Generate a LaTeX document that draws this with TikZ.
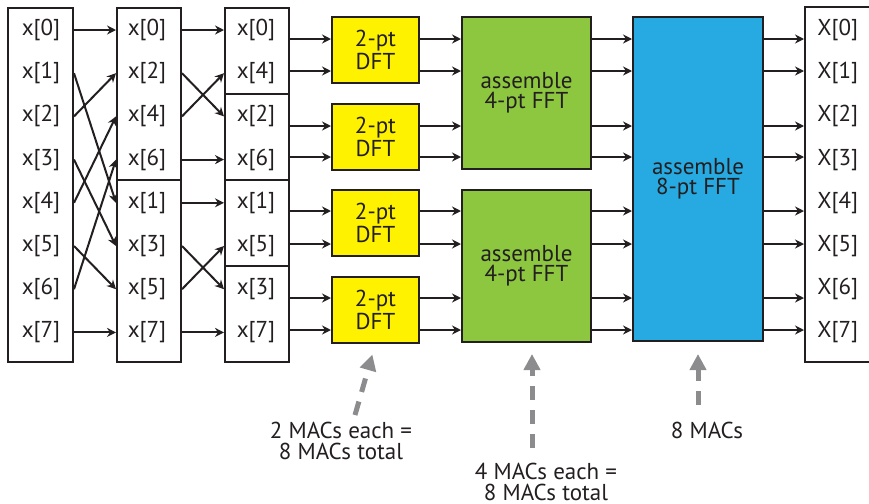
\documentclass[tikz,border=0pt]{standalone}
\usepackage{fontspec}
\setmainfont{PT Sans}
\usetikzlibrary{arrows.meta}
\definecolor{FInk}{HTML}{231F20}
\definecolor{FYellow}{HTML}{FFF200}
\definecolor{FGreen}{HTML}{8DC63F}
\definecolor{FBlue}{HTML}{27AAE1}
\definecolor{FGray}{HTML}{8C8C8F}

\begin{document}
\begin{tikzpicture}[
  x=0.5pt,y=-0.5pt,
  every node/.style={font=\fontsize{11.5}{10}\selectfont,text=FInk},
  col/.style={draw=FInk,line width=1pt,minimum width=32pt,inner sep=0pt},
  entry/.style={inner sep=0pt},
  dft/.style={draw=FInk,line width=1pt,fill=FYellow,minimum width=43.5pt,
    minimum height=33pt,align=center,inner sep=0pt},
  fft/.style={draw=FInk,line width=1pt,fill=FGreen,minimum width=64.5pt,
    minimum height=76pt,align=center,inner sep=0pt},
  fftall/.style={draw=FInk,line width=1pt,fill=FBlue,minimum width=65pt,
    minimum height=162pt,align=center,inner sep=0pt},
  arr/.style={-{Stealth[length=4.5pt,width=4.5pt]},line width=1pt,draw=FInk},
  macarr/.style={-{Triangle[length=8pt,width=8pt]},line width=2.5pt,draw=FGray,
    dash pattern=on 7pt off 5pt},
  note/.style={align=center,font=\fontsize{11.5}{10.5}\selectfont}
]
  \useasboundingbox (0,0) rectangle (869,504);
  \clip (0,0) rectangle (869,504);

  % input columns
  \node[col,minimum width=32.5pt,minimum height=177pt] (c1) at (40.5,185) {};
  \node[col,minimum height=86pt] (c2a) at (149,94) {};
  \node[col,minimum height=91pt] (c2b) at (149,271) {};
  \node[col,minimum height=43pt] (c3a) at (257,51) {};
  \node[col,minimum height=43pt] (c3b) at (257,137) {};
  \node[col,minimum height=43pt] (c3c) at (257,223) {};
  \node[col,minimum height=48pt] (c3d) at (257,314) {};
  \node[col,minimum width=40pt,minimum height=177.5pt] (out) at (845,184.5) {};

  \foreach \i in {0,...,7}
    \node[entry] (a\i) at (41,{30+43.2*\i}) {x[\i]};
  \foreach \n/\i in {0/0,1/2,2/4,3/6,4/1,5/3,6/5,7/7}
    \node[entry] (b\n) at (147,{30+43.2*\n}) {x[\i]};
  \foreach \n/\i in {0/0,1/4,2/2,3/6,4/1,5/5,6/3,7/7}
    \node[entry] (d\n) at (256,{30+43.2*\n}) {x[\i]};
  \foreach \i in {0,...,7}
    \node[entry,anchor=west] (X\i) at (817,{30+43.2*\i}) {X[\i]};

  % butterfly stages
  \node[dft] (y1) at (375.5,50) {2-pt\\DFT};
  \node[dft] (y2) at (375.5,136.5) {2-pt\\DFT};
  \node[dft] (y3) at (375.5,223) {2-pt\\DFT};
  \node[dft] (y4) at (375.5,309.5) {2-pt\\DFT};
  \node[fft] (g1) at (526.5,93) {assemble\\4-pt FFT};
  \node[fft] (g2) at (526.5,266) {assemble\\4-pt FFT};
  \node[fftall] (blue) at (698,179) {assemble\\8-pt FFT};

  % bit reversal
  \foreach \s/\t in {0/0,1/4,2/1,3/5,4/2,5/6,6/3,7/7}
    \draw[arr] (c1.east |- a\s) -- (c2a.west |- b\t);
  \foreach \s/\t in {0/0,1/2,2/1,3/3,4/4,5/6,6/5,7/7}
    \draw[arr] (c2a.east |- b\s) -- (c3a.west |- d\t);

  % ports
  \foreach \k/\py in {0/39,1/71,2/126,3/157,4/211,5/244,6/298,7/330}
    \coordinate (p\k) at (0,\py);
  \foreach \k/\yb/\gb in {0/y1/g1,1/y1/g1,2/y2/g1,3/y2/g1,4/y3/g2,5/y3/g2,6/y4/g2,7/y4/g2}{
    \draw[arr] (c3a.east |- p\k) -- (\yb.west |- p\k);
    \draw[arr] (\yb.east |- p\k) -- (\gb.west |- p\k);
    \draw[arr] (\gb.east |- p\k) -- (blue.west |- p\k);
    \draw[arr] (blue.east |- p\k) -- (out.west |- p\k);
  }

  % MAC counts
  \node[note] (n1) at (341,441) {2 MACs each =\\8 MACs total};
  \node[note] (n2) at (546,482) {4 MACs each =\\8 MACs total};
  \node[note] (n3) at (707,430) {8 MACs};
  \coordinate (m1) at (355,415);
  \coordinate (m2) at (532,448);
  \coordinate (m3) at (698,405);
  \draw[macarr,shorten >=5.7pt] (m1) -- (y4.south);
  \draw[macarr,shorten >=5.5pt] (m2) -- (m2 |- g2.south);
  \draw[macarr,shorten >=6pt] (m3) -- (m3 |- blue.south);
\end{tikzpicture}
\end{document}
